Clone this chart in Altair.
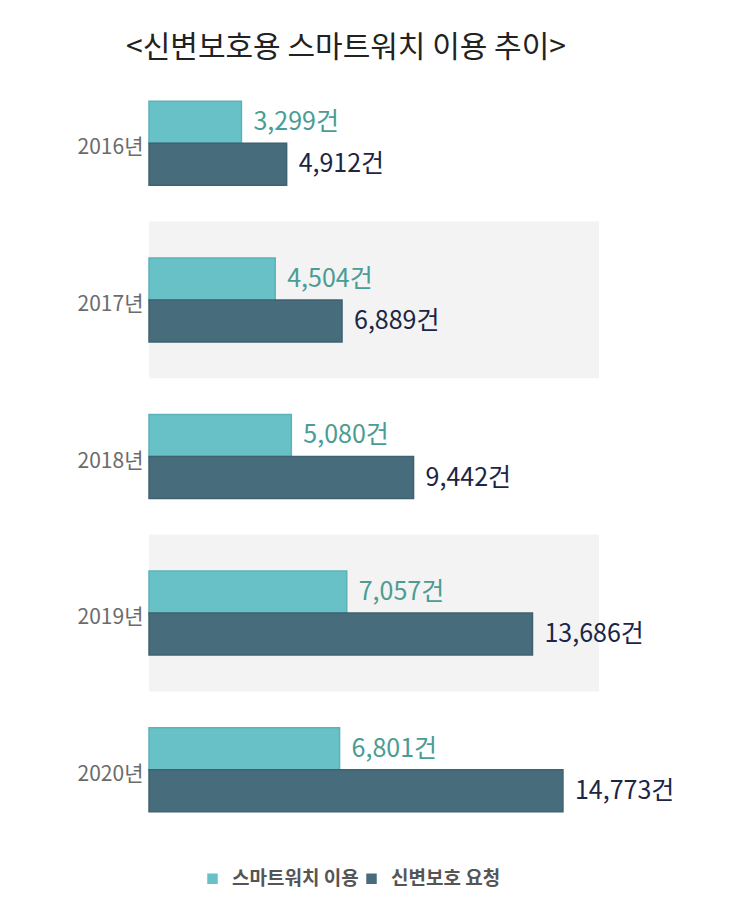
import altair as alt
import pandas as pd

# values
years = ["2016년", "2017년", "2018년", "2019년", "2020년"]
series = ["스마트워치 이용", "신변보호 요청"]
smartwatch = [3299, 4504, 5080, 7057, 6801]
protection = [4912, 6889, 9442, 13686, 14773]
shaded_years = ["2017년", "2019년"]

FONT = "Noto Sans CJK KR"

rows = []
for i, y in enumerate(years):
    rows.append({"year": y, "series": series[0], "value": smartwatch[i]})
    rows.append({"year": y, "series": series[1], "value": protection[i]})
df = pd.DataFrame(rows)
df["label"] = df["value"].map(lambda v: f"{v:,}건")

bands = pd.DataFrame({"year": shaded_years})

y_enc = alt.Y(
    "year:N",
    sort=years,
    scale=alt.Scale(domain=years, paddingInner=0, paddingOuter=0),
    axis=alt.Axis(
        title=None, domain=False, ticks=False, labelPadding=6, labelOffset=5,
        labelFontSize=21, labelColor="#6b6b6b", labelFont=FONT,
    ),
)
x_enc = alt.X("value:Q", scale=alt.Scale(domain=[0, 16060], nice=False), axis=None)
y_off = alt.YOffset("series:N", sort=series, scale=alt.Scale(domain=series, paddingOuter=0.864, paddingInner=0))

bg = alt.Chart(bands).mark_rect(color="#f3f3f3").encode(
    y=y_enc,
    x=alt.value(0),
    x2=alt.value(450),
)

bars = alt.Chart(df).mark_bar(strokeWidth=1.5).encode(
    y=y_enc,
    x=x_enc,
    yOffset=y_off,
    color=alt.Color(
        "series:N",
        sort=series,
        scale=alt.Scale(domain=series, range=["#67c1c7", "#476c7c"]),
        legend=alt.Legend(
            title=None, orient="none", legendX=54, legendY=804, direction="horizontal",
            symbolType="square", symbolSize=110, labelFont=FONT, labelFontSize=19,
            labelFontWeight="bold", labelColor="#555555", labelOffset=10, columnPadding=3,
        ),
    ),
    stroke=alt.Stroke(
        "series:N",
        sort=series,
        scale=alt.Scale(domain=series, range=["#5bb3b9", "#3f6271"]),
        legend=None,
    ),
)

labels = alt.Chart(df).mark_text(
    align="left", baseline="middle", dx=12, fontSize=25, font=FONT
).encode(
    y=y_enc,
    x=x_enc,
    yOffset=y_off,
    text="label:N",
    color=alt.Color(
        "series:N",
        sort=series,
        scale=alt.Scale(domain=series, range=["#4a9c94", "#1c2545"]),
        legend=None,
    ),
)

chart = alt.layer(bg, bars, labels).resolve_scale(color="independent").properties(
    width=450,
    height=783,
    autosize=alt.AutoSizeParams(type="none"),
    padding={"left": 141, "top": 57, "right": 130, "bottom": 45},
    title=alt.TitleParams(
        "<신변보호용 스마트워치 이용 추이>",
        font=FONT, fontSize=30, fontWeight="normal", color="#222222",
        anchor="middle", dx=-28, offset=2,
    ),
).configure_view(stroke=None)

chart.save("out.html", embed_options={"renderer": "svg", "actions": False})
